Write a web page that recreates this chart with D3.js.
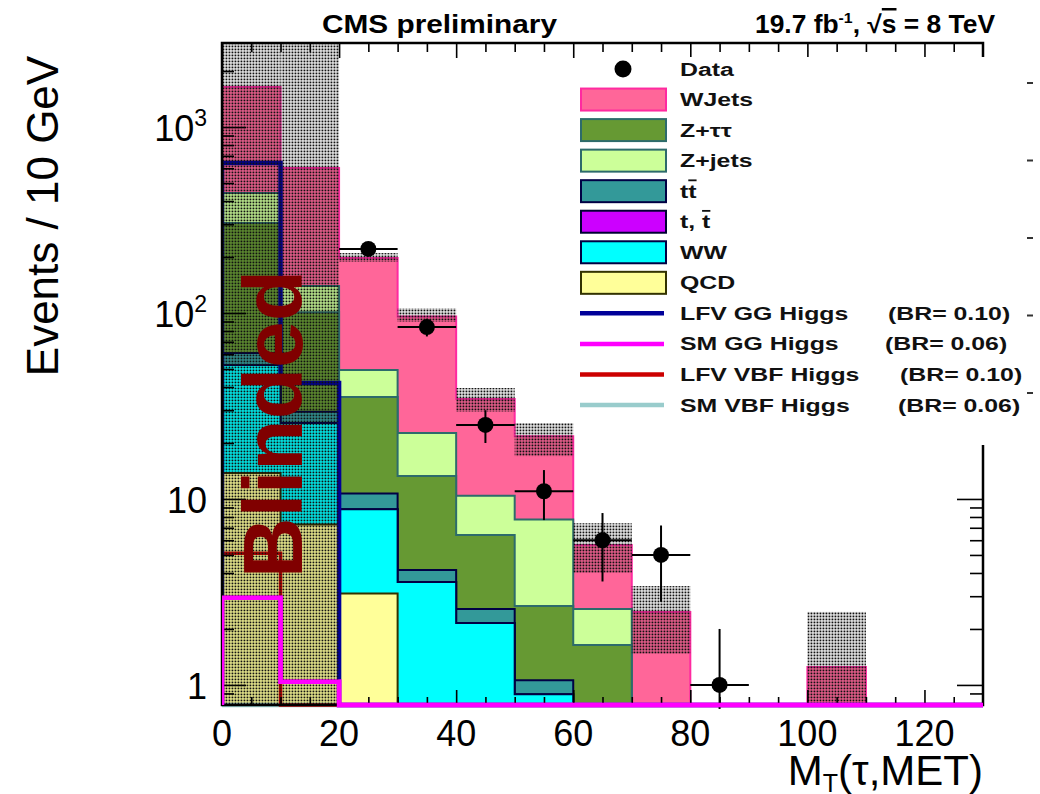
<!DOCTYPE html>
<html>
<head>
<meta charset="utf-8">
<script src="https://cdn.jsdelivr.net/npm/d3@7"></script>
<style>
  body { margin: 0; background: #fff; }
  svg { display: block; }
  text { font-family: "Liberation Sans", Arial, Helvetica, sans-serif; }
</style>
</head>
<body>
<svg id="chart" width="1040" height="794"></svg>
<script>
// ---- Binning: M_T(tau, MET) in 10 GeV bins ----
const binEdges = [0, 10, 20, 30, 40, 50, 60, 70, 80, 90, 100, 110, 120, 130];

// ---- Background expectations per bin (events / 10 GeV), stacked bottom-up ----
const qcd       = [13.8, 7.3, 3.1, 0, 0, 0, 0, 0, 0, 0, 0, 0, 0];
const ww        = [38.8, 18.3, 5.7, 3.58, 2.15, 0.89, 0, 0, 0, 0, 0, 0, 0];
const singleTop = [0, 0, 0, 0, 0, 0, 0, 0, 0, 0, 0, 0, 0];
const ttbar     = [8.4, 3.8, 1.9, 0.57, 0.41, 0.17, 0, 0, 0, 0, 0, 0, 0];
const zTauTau   = [244, 71.6, 24.6, 9.15, 3.84, 1.6, 1.64, 0, 0, 0, 0, 0, 0];
const zJets     = [137, 38.7, 14, 9.3, 4.0, 5.1, 0.92, 0, 0, 0, 0, 0, 0];
const wJets     = [1199, 462, 148, 73, 24.1, 14.0, 3.1, 2.47, 0, 0, 1.25, 0, 0];

// ---- Total background uncertainty band (upper / lower edge) ----
const bandUp    = [5000, 5000, 210, 106, 39.5, 25.6, 7.4, 3.4, 0, 0, 2.47, 0, 0];
const bandLow   = [0.1, 0.1, 188, 89.5, 29.4, 17.0, 4.0, 1.47, 0, 0, 0.1, 0, 0];

// ---- Signal histograms ----
const lfvGG  = [640, 42, 0, 0, 0, 0, 0, 0, 0, 0, 0, 0, 0];
const smGG   = [2.94, 1.04, 0, 0, 0, 0, 0, 0, 0, 0, 0, 0, 0];
const lfvVBF = [5.1, 0, 0, 0, 0, 0, 0, 0, 0, 0, 0, 0, 0];
const smVBF  = [0, 0, 0, 0, 0, 0, 0, 0, 0, 0, 0, 0, 0];

// ---- Observed data (bins above 20 GeV) ----
const dataX   = [25, 35, 45, 55, 65, 75, 85];
const dataY   = [221, 84, 25, 11, 6, 5, 1];
const dataErr = [14.9, 9.2, 5.0, 3.3, 2.4, 2.2, 1.0];

// ---- Axis ticks ----
const xMajorTicks = [0, 20, 40, 60, 80, 100, 120];
const xMinorTicks = [5, 10, 15, 25, 30, 35, 45, 50, 55, 65, 70, 75, 85, 90, 95, 105, 110, 115, 125];
const yMajorTicks = [1, 10, 100, 1000];
const yMinorTicks = [0.9, 2, 3, 4, 5, 6, 7, 8, 9, 20, 30, 40, 50, 60, 70, 80, 90,
                     200, 300, 400, 500, 600, 700, 800, 900, 2000];
const yTickLabels = [["1", ""], ["10", ""], ["10", "2"], ["10", "3"]];

// ---- Legend ----
const legendLabels = ["Data", "WJets", "Z+ττ", "Z+jets", "tt̄", "t, t̄", "WW", "QCD",
                      "LFV GG Higgs", "SM GG Higgs", "LFV VBF Higgs", "SM VBF Higgs"];
const legendBR = ["", "", "", "", "", "", "", "", "(BR= 0.10)", "(BR= 0.06)", "(BR= 0.10)", "(BR= 0.06)"];

// ================= drawing =================
const W = 1040, H = 794;
const plot = { left: 222, right: 983, top: 43, bottom: 705 };
const yMin = 0.78, yMax = 2830;

const svg = d3.select("#chart");
const x = d3.scaleLinear().domain([0, 130]).range([plot.left, plot.right]);
const y = d3.scaleLog().domain([yMin, yMax]).range([plot.bottom, plot.top]);
const yc = v => (v > yMin ? Math.max(y(Math.min(v, 1e6)), -50) : plot.bottom);

const defs = svg.append("defs");
defs.append("clipPath").attr("id", "plotClip")
  .append("rect").attr("x", plot.left).attr("y", plot.top)
  .attr("width", plot.right - plot.left).attr("height", plot.bottom - plot.top);
defs.append("clipPath").attr("id", "lineClip")
  .append("rect").attr("x", plot.left).attr("y", plot.top)
  .attr("width", plot.right - plot.left).attr("height", plot.bottom - plot.top + 4);

// dotted fill used for the uncertainty band
const pat = defs.append("pattern").attr("id", "dots")
  .attr("patternUnits", "userSpaceOnUse").attr("width", 3).attr("height", 3);
pat.append("rect").attr("x", 0.5).attr("y", 0.5).attr("width", 1.9).attr("height", 1.9).attr("fill", "#111");

// step outline path for a histogram
function stepPath(vals, closed) {
  const p = d3.path();
  p.moveTo(x(binEdges[0]), plot.bottom);
  vals.forEach((v, i) => {
    p.lineTo(x(binEdges[i]), yc(v));
    p.lineTo(x(binEdges[i + 1]), yc(v));
  });
  p.lineTo(x(binEdges[binEdges.length - 1]), plot.bottom);
  if (closed) p.closePath();
  return p.toString();
}

// stacked backgrounds
const components = [
  { values: qcd,       fill: "#ffff99", stroke: "#333300" },
  { values: ww,        fill: "#00ffff", stroke: "#000044" },
  { values: singleTop, fill: "#cc00ff", stroke: "#000033" },
  { values: ttbar,     fill: "#339999", stroke: "#000044" },
  { values: zTauTau,   fill: "#669933", stroke: "#2d6b6b" },
  { values: zJets,     fill: "#ccff99", stroke: "#2d6b6b" },
  { values: wJets,     fill: "#ff6699", stroke: "#ff2aa0" }
];
let running = binEdges.slice(1).map(() => 0);
components.forEach(c => {
  running = running.map((r, i) => r + c.values[i]);
  c.cum = running.slice();
});

const gStack = svg.append("g").attr("clip-path", "url(#plotClip)");
components.slice().reverse().forEach(c => {
  gStack.append("path").attr("d", stepPath(c.cum, true))
    .attr("fill", c.fill).attr("stroke", c.stroke).attr("stroke-width", 2)
    .attr("stroke-linejoin", "miter");
});

// signal histograms
const signals = [
  { values: smVBF,  color: "#99cccc", width: 4.5 },
  { values: lfvVBF, color: "#cc0000", width: 3.5 },
  { values: lfvGG,  color: "#000099", width: 4.5 },
  { values: smGG,   color: "#ff00ff", width: 4.5 }
];
const gSig = svg.append("g").attr("clip-path", "url(#lineClip)");
signals.forEach(s => {
  gSig.append("path").attr("d", stepPath(s.values, false))
    .attr("fill", "none").attr("stroke", s.color).attr("stroke-width", s.width);
});

// uncertainty band
const gBand = svg.append("g").attr("clip-path", "url(#plotClip)");
bandUp.forEach((u, i) => {
  if (u <= 0) return;
  const y0 = yc(u), y1 = yc(bandLow[i]);
  gBand.append("rect")
    .attr("x", x(binEdges[i])).attr("width", x(binEdges[i + 1]) - x(binEdges[i]))
    .attr("y", y0).attr("height", Math.max(0, y1 - y0))
    .attr("fill", "url(#dots)");
});

// data points with error bars
const gData = svg.append("g").attr("clip-path", "url(#lineClip)");
dataX.forEach((xv, i) => {
  const v = dataY[i], e = dataErr[i];
  gData.append("line").attr("x1", x(xv - 5)).attr("x2", x(xv + 5))
    .attr("y1", y(v)).attr("y2", y(v)).attr("stroke", "#000").attr("stroke-width", 2);
  gData.append("line").attr("x1", x(xv)).attr("x2", x(xv))
    .attr("y1", yc(v + e)).attr("y2", v - e > yMin ? y(v - e) : plot.bottom + 8)
    .attr("stroke", "#000").attr("stroke-width", 2);
  gData.append("circle").attr("cx", x(xv)).attr("cy", y(v)).attr("r", 8).attr("fill", "#000");
});

// axes: ticks on all four sides
function tickAxis(axisFn, scale, values, size, tx, ty) {
  const g = svg.append("g").attr("transform", `translate(${tx},${ty})`)
    .call(axisFn(scale).tickValues(values).tickSize(size).tickFormat(""));
  g.select(".domain").remove();
  g.selectAll("line").attr("stroke", "#000").attr("stroke-width", 1.6);
}
tickAxis(d3.axisRight, y, yMajorTicks, 24, plot.left, 0);
tickAxis(d3.axisRight, y, yMinorTicks, 12, plot.left, 0);
tickAxis(d3.axisLeft, y, yMajorTicks, 26, plot.right, 0);
tickAxis(d3.axisLeft, y, yMinorTicks, 13, plot.right, 0);
tickAxis(d3.axisBottom, x, xMajorTicks, 15, 0, plot.top);
tickAxis(d3.axisBottom, x, xMinorTicks, 9, 0, plot.top);
tickAxis(d3.axisTop, x, xMajorTicks, 15, 0, plot.bottom);
tickAxis(d3.axisTop, x, xMinorTicks, 8, 0, plot.bottom);

// frame
svg.append("rect").attr("x", plot.left).attr("y", plot.top)
  .attr("width", plot.right - plot.left).attr("height", plot.bottom - plot.top)
  .attr("fill", "none").attr("stroke", "#000").attr("stroke-width", 2.5);

// SM GG line redrawn so it sits above the lower frame edge
svg.append("path").attr("d", stepPath(smGG, false)).attr("clip-path", "url(#lineClip)")
  .attr("fill", "none").attr("stroke", "#ff00ff").attr("stroke-width", 4.5);

// tick labels
xMajorTicks.forEach(t => {
  svg.append("text").attr("x", x(t)).attr("y", 746).attr("text-anchor", "middle")
    .attr("font-size", 36).attr("fill", "#000").text(t);
});
yMajorTicks.forEach((t, i) => {
  const [base, sup] = yTickLabels[i];
  const tx = svg.append("text").attr("x", 207).attr("y", y(t) + 14)
    .attr("text-anchor", "end").attr("font-size", 36).attr("fill", "#000");
  tx.append("tspan").text(base);
  if (sup) tx.append("tspan").attr("font-size", 23).attr("dy", -15).text(sup);
});

// axis titles
svg.append("text").attr("transform", "translate(58,216) rotate(-90)")
  .attr("text-anchor", "middle").attr("font-size", 44).attr("fill", "#000")
  .text("Events / 10 GeV");
const xt = svg.append("text").attr("x", 983).attr("y", 785).attr("text-anchor", "end")
  .attr("font-size", 42).attr("fill", "#000");
xt.append("tspan").text("M");
xt.append("tspan").attr("font-size", 25).attr("dy", 7).text("T");
xt.append("tspan").attr("dy", -7).text("(τ,MET)");

// header
svg.append("text").attr("x", 322).attr("y", 33).attr("font-size", 25).attr("font-weight", "bold")
  .attr("textLength", 235).attr("lengthAdjust", "spacingAndGlyphs").text("CMS preliminary");
const hr = svg.append("text").attr("x", 755).attr("y", 33).attr("font-size", 25)
  .attr("font-weight", "bold").attr("textLength", 240).attr("lengthAdjust", "spacingAndGlyphs");
hr.append("tspan").text("19.7 fb");
hr.append("tspan").attr("font-size", 15).attr("dy", -10).text("-1");
hr.append("tspan").attr("dy", 10).text(", √");
hr.append("tspan").style("text-decoration", "overline").text("s");
hr.append("tspan").text(" = 8 TeV");

// legend
svg.append("rect").attr("x", 575).attr("y", 57).attr("width", W - 575).attr("height", 388).attr("fill", "#fff");
const legendKeys = [
  { kind: "marker" },
  { kind: "box", c: components[6] },
  { kind: "box", c: components[4] },
  { kind: "box", c: components[5] },
  { kind: "box", c: components[3] },
  { kind: "box", c: components[2] },
  { kind: "box", c: components[1] },
  { kind: "box", c: components[0] },
  { kind: "line", s: signals[2] },
  { kind: "line", s: signals[3] },
  { kind: "line", s: signals[1] },
  { kind: "line", s: signals[0] }
];
const brX = [0, 0, 0, 0, 0, 0, 0, 0, 888, 885, 900, 898];
const rowY = d3.scaleLinear().domain([0, 11]).range([69, 405]);
const gLeg = svg.append("g");
legendLabels.forEach((lab, i) => {
  const cy = rowY(i), k = legendKeys[i];
  if (k.kind === "marker") {
    gLeg.append("circle").attr("cx", 623).attr("cy", cy).attr("r", 8.5).attr("fill", "#000");
  } else if (k.kind === "box") {
    gLeg.append("rect").attr("x", 581).attr("y", cy - 11).attr("width", 85).attr("height", 22)
      .attr("fill", k.c.fill).attr("stroke", k.c.stroke).attr("stroke-width", 2);
  } else {
    gLeg.append("line").attr("x1", 580).attr("x2", 664).attr("y1", cy).attr("y2", cy)
      .attr("stroke", k.s.color).attr("stroke-width", 4.5);
  }
  const t = gLeg.append("text").attr("transform", `translate(680,${cy + 6.5}) scale(1.38,1)`)
    .attr("font-size", 18).attr("font-weight", "bold").attr("fill", "#111");
  if (lab === "tt̄") {
    t.append("tspan").text("t");
    t.append("tspan").style("text-decoration", "overline").text("t");
  } else if (lab === "t, t̄") {
    t.append("tspan").text("t, ");
    t.append("tspan").style("text-decoration", "overline").text("t");
  } else {
    t.text(lab);
  }
  if (legendBR[i]) {
    gLeg.append("text").attr("transform", `translate(${brX[i]},${cy + 6.5}) scale(1.38,1)`)
      .attr("font-size", 18).attr("font-weight", "bold").attr("fill", "#111").text(legendBR[i]);
  }
});

// small marks along the right edge
const edgeY = d3.scaleLinear().domain([0, 4]).range([83, 393]);
d3.range(5).forEach(i => {
  svg.append("line").attr("x1", 1027).attr("x2", 1033).attr("y1", edgeY(i)).attr("y2", edgeY(i))
    .attr("stroke", "#333").attr("stroke-width", 2);
});

// blinded region label
svg.append("text").attr("transform", "translate(302,578) rotate(-90)")
  .attr("font-size", 84).attr("font-weight", "bold").attr("fill", "#800000")
  .text("Blinded");
</script>
</body>
</html>
